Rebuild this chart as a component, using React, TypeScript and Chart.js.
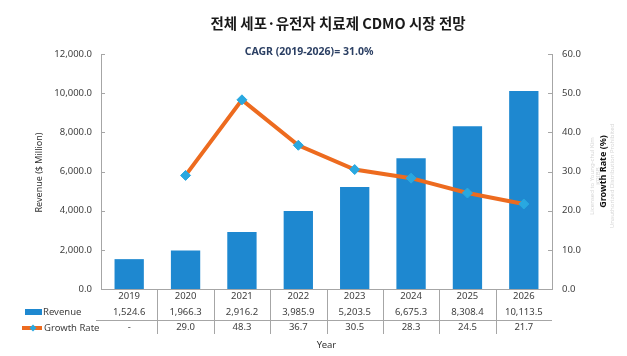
import React, { useEffect, useRef } from "react";
import { Chart, registerables } from "chart.js";

Chart.register(...registerables);

const years = ["2019", "2020", "2021", "2022", "2023", "2024", "2025", "2026"];
const revenue = [1524.6, 1966.3, 2916.2, 3985.9, 5203.5, 6675.3, 8308.4, 10113.5];
const growth: (number | null)[] = [null, 29.0, 48.3, 36.7, 30.5, 28.3, 24.5, 21.7];
const revenueAxis = { min: 0, max: 12000, step: 2000 };
const growthAxis = { min: 0, max: 60, step: 10 };
const titleText = "전체 세포·유전자 치료제 CDMO 시장 전망";
const cagrText = "CAGR (2019-2026)= 31.0%";

const BAR = "#1e88d0";
const LINE = "#ed6b1f";
const MARK = "#29a8e0";
const AXIS = "#a6a6a6";
const TXT = "#404040";
const FONT = '"Noto Sans", "DejaVu Sans", sans-serif';

const fmtRev = (v: number) =>
  v.toLocaleString("en-US", { minimumFractionDigits: 1, maximumFractionDigits: 1 });
const fmtGr = (v: number | null) => (v === null ? "-" : v.toFixed(1));

const decor = {
  id: "decor",
  afterDraw(chart: any) {
    const ctx = chart.ctx as CanvasRenderingContext2D;
    const { left, right, top, bottom } = chart.chartArea;
    const x = chart.scales.x;
    const y = chart.scales.y;
    const y1 = chart.scales.y1;
    ctx.save();

    // titles
    ctx.fillStyle = "#1a1a1a";
    ctx.textAlign = "center";
    ctx.textBaseline = "middle";
    ctx.font = 'bold 14.5px "Noto Sans CJK KR", sans-serif';
    ctx.fillText(titleText, 338, 23);
    ctx.fillStyle = "#2b3f63";
    ctx.font = `bold 10.5px ${FONT}`;
    ctx.fillText(cagrText, 309, 52);

    // inward ticks
    ctx.strokeStyle = AXIS;
    ctx.lineWidth = 1;
    ctx.beginPath();
    y.ticks.forEach((t: any) => {
      const py = Math.round(y.getPixelForValue(t.value)) + 0.5;
      ctx.moveTo(left, py);
      ctx.lineTo(left + 4, py);
    });
    y1.ticks.forEach((t: any) => {
      const py = Math.round(y1.getPixelForValue(t.value)) + 0.5;
      ctx.moveTo(right, py);
      ctx.lineTo(right - 4, py);
    });
    // table separators
    for (let i = 1; i < years.length; i++) {
      const px = Math.round((x.getPixelForValue(i - 1) + x.getPixelForValue(i)) / 2) + 0.5;
      ctx.moveTo(px, bottom);
      ctx.lineTo(px, bottom + 45);
    }
    ctx.moveTo(96, bottom + 31.5);
    ctx.lineTo(right, bottom + 31.5);
    ctx.stroke();

    // axis titles
    ctx.fillStyle = "#333";
    ctx.font = `9px ${FONT}`;
    ctx.save();
    ctx.translate(39, (top + bottom) / 2 + 1);
    ctx.rotate(-Math.PI / 2);
    ctx.fillText("Revenue ($ Million)", 0, 0);
    ctx.restore();

    // faint watermark
    ctx.save();
    ctx.fillStyle = "#d6d6d6";
    ctx.font = `6px ${FONT}`;
    ctx.translate(592, 176);
    ctx.rotate(-Math.PI / 2);
    ctx.fillText("Licensed to Young-chul Kim", 0, 0);
    ctx.fillText("KRIBB", 0, 6);
    ctx.fillText("Unauthorized Distribution Prohibited", 0, 20);
    ctx.restore();

    ctx.save();
    ctx.fillStyle = "#111";
    ctx.font = `bold 9px ${FONT}`;
    ctx.translate(603, (top + bottom) / 2);
    ctx.rotate(-Math.PI / 2);
    ctx.fillText("Growth Rate (%)", 0, 0);
    ctx.restore();

    // Year
    ctx.fillStyle = "#333";
    ctx.font = `9.5px ${FONT}`;
    ctx.fillText("Year", (left + right) / 2, 345);

    // table legends
    ctx.textAlign = "left";
    ctx.fillStyle = BAR;
    ctx.fillRect(25, 309, 17, 6);
    ctx.fillStyle = TXT;
    ctx.fillText("Revenue", 43, 312.5);
    ctx.strokeStyle = LINE;
    ctx.lineWidth = 4;
    ctx.beginPath();
    ctx.moveTo(22, 328);
    ctx.lineTo(42, 328);
    ctx.stroke();
    ctx.fillStyle = MARK;
    ctx.beginPath();
    ctx.moveTo(33, 324.5);
    ctx.lineTo(36.5, 328);
    ctx.lineTo(33, 331.5);
    ctx.lineTo(29.5, 328);
    ctx.closePath();
    ctx.fill();
    ctx.fillStyle = TXT;
    ctx.fillText("Growth Rate", 44, 328);

    ctx.restore();
  },
};

export default function App() {
  const ref = useRef<HTMLCanvasElement>(null);
  useEffect(() => {
    if (!ref.current) return;
    const chart = new Chart(ref.current, {
      type: "bar",
      data: {
        labels: years,
        datasets: [
          {
            type: "line",
            label: "Growth Rate",
            data: growth,
            yAxisID: "y1",
            borderColor: LINE,
            borderWidth: 4,
            pointStyle: "rectRot",
            pointRadius: 5,
            pointBackgroundColor: MARK,
            pointBorderColor: MARK,
            pointBorderWidth: 1,
            tension: 0,
            spanGaps: false,
            order: 0,
          } as any,
          {
            type: "bar",
            label: "Revenue",
            data: revenue,
            yAxisID: "y",
            backgroundColor: BAR,
            categoryPercentage: 1,
            barPercentage: 0.52,
            order: 1,
          },
        ],
      },
      options: {
        responsive: false,
        animation: false,
        layout: { padding: { top: 54, left: 0, right: 0, bottom: 0 } },
        plugins: { legend: { display: false }, title: { display: false }, tooltip: { enabled: false } },
        scales: {
          x: {
            grid: { display: false, drawTicks: false },
            border: { display: true, color: AXIS },
            ticks: {
              autoSkip: false,
              maxRotation: 0,
              minRotation: 0,
              padding: 0,
              color: TXT,
              font: { family: FONT, size: 9.5, lineHeight: "15.5px" } as any,
              callback: (_v: any, i: number) => [years[i], fmtRev(revenue[i]), fmtGr(growth[i])],
            },
            afterFit: (s: any) => {
              s.height = 67;
            },
          },
          y: {
            position: "left",
            min: revenueAxis.min,
            max: revenueAxis.max,
            grid: { display: false, drawTicks: false },
            border: { display: true, color: AXIS },
            ticks: {
              stepSize: revenueAxis.step,
              padding: 9,
              color: TXT,
              font: { family: FONT, size: 9.5 },
              callback: (v: any) => fmtRev(Number(v)),
            },
            afterFit: (s: any) => {
              s.width = 101;
            },
          },
          y1: {
            position: "right",
            min: growthAxis.min,
            max: growthAxis.max,
            grid: { display: false, drawTicks: false },
            border: { display: true, color: AXIS },
            ticks: {
              stepSize: growthAxis.step,
              padding: 10,
              color: TXT,
              font: { family: FONT, size: 9.5 },
              callback: (v: any) => Number(v).toFixed(1),
            },
            afterFit: (s: any) => {
              s.width = 75;
            },
          },
        },
      },
      plugins: [decor],
    });
    return () => chart.destroy();
  }, []);
  return (
    <div style={{ position: "fixed", left: 0, top: 0, width: 627, height: 356, background: "#fff" }}>
      <canvas ref={ref} width={627} height={356} style={{ display: "block" }} />
    </div>
  );
}
